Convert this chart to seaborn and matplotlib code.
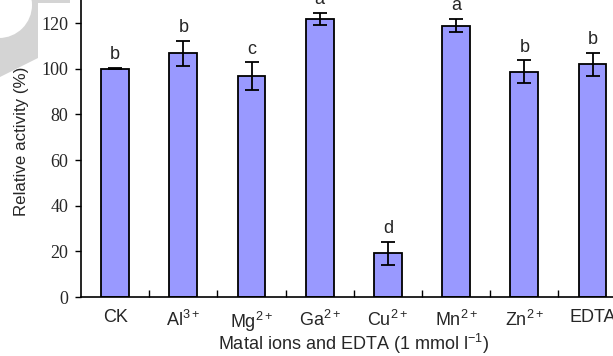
import matplotlib
matplotlib.use("Agg")
import matplotlib.pyplot as plt
import matplotlib.patches as mpatches
from matplotlib.ticker import FixedLocator
import seaborn as sns
import pandas as pd

categories = ["CK", r"Al$^{\mathrm{3+}}$", r"Mg$^{\mathrm{2+}}$", r"Ga$^{\mathrm{2+}}$",
              r"Cu$^{\mathrm{2+}}$", r"Mn$^{\mathrm{2+}}$", r"Zn$^{\mathrm{2+}}$", "EDTA"]
activity = [100.0, 106.8, 96.8, 121.7, 19.1, 118.9, 98.7, 102.0]
errors = [0.3, 5.5, 6.0, 2.7, 5.1, 3.0, 4.9, 5.0]
letters = ["b", "b", "c", "a", "d", "a", "b", "b"]
yticks = [0, 20, 40, 60, 80, 100, 120]

sns.set_theme(style="ticks")
plt.rcParams["font.family"] = ["Liberation Sans", "DejaVu Sans"]
plt.rcParams["mathtext.fontset"] = "custom"
plt.rcParams["mathtext.rm"] = "Liberation Sans"
plt.rcParams["mathtext.it"] = "Liberation Sans:italic"
plt.rcParams["mathtext.bf"] = "Liberation Sans:bold"

df = pd.DataFrame({"ion": categories, "activity": activity})

fig = plt.figure(figsize=(6.13, 3.56), dpi=100)

# faint grey watermark fragment at the top-left corner
W, H = 613.0, 356.0
def fc(px, py):
    return (px / W, 1 - py / H)
poly = mpatches.Polygon([fc(0, 0), fc(70, 0), fc(70, 3), fc(38, 3), fc(38, 58), fc(0, 77)],
                        closed=True, transform=fig.transFigure, facecolor="#d4d4d4",
                        edgecolor="none", zorder=0)
fig.patches.append(poly)
circ = mpatches.Ellipse(fc(-1, 5), 2 * 33 / W, 2 * 33 / H, transform=fig.transFigure,
                        facecolor="white", edgecolor="none", zorder=0.5)
fig.patches.append(circ)

ax = fig.add_axes([81 / W, 59 / H, 8 * 68.2 / W, 135 * 2.283 / H])
ax.patch.set_alpha(0)

sns.barplot(data=df, x="ion", y="activity", color="#9999FF", saturation=1,
            edgecolor="black", linewidth=1.3, width=0.41, ax=ax, errorbar=None)
ax.errorbar(range(len(categories)), activity, yerr=errors, fmt="none",
            ecolor="black", elinewidth=1.3, capsize=5, capthick=1.3)
for i, (v, e, l) in enumerate(zip(activity, errors, letters)):
    ax.text(i, v + e + 2.0, l, ha="center", va="bottom", fontsize=13,
            family="Liberation Sans")

ax.set_xlim(-0.5, len(categories) - 0.5)
ax.set_ylim(0, 135)
ax.set_yticks(yticks)
ax.set_yticklabels([str(t) for t in yticks], fontsize=13)
ax.tick_params(axis="y", direction="out", length=4, width=1, color="black", pad=5)
ax.tick_params(axis="x", which="major", length=0, pad=9, labelsize=13)
ax.xaxis.set_minor_locator(FixedLocator([i + 0.5 for i in range(len(categories) - 1)]))
ax.tick_params(axis="x", which="minor", direction="in", length=5, width=1, color="black")
for t in ax.get_yticklabels():
    t.set_fontfamily("Liberation Serif")

for s in ["top", "right"]:
    ax.spines[s].set_visible(False)
for s in ["left", "bottom"]:
    ax.spines[s].set_linewidth(1.2)
    ax.spines[s].set_color("black")

ax.set_xlabel(r"Matal ions and EDTA (1 mmol l$^{\mathrm{-1}}$)", fontsize=13, labelpad=-1.5)
ax.set_ylabel("Relative activity (%)", fontsize=12.2, labelpad=9)
ax.yaxis.label.set_position((0, (297 - 141.5) / (135 * 2.283)))

fig.savefig("out.png", dpi=100)
